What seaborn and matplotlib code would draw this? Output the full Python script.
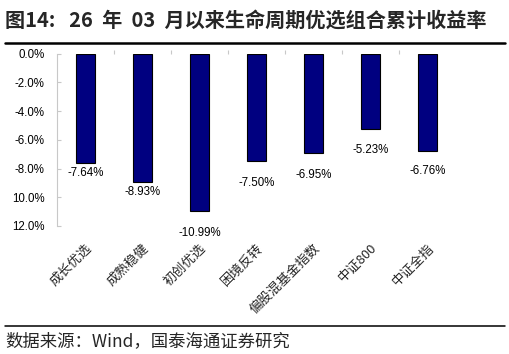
import matplotlib
matplotlib.use("Agg")
import matplotlib.pyplot as plt
import matplotlib.ticker as mticker
from matplotlib.lines import Line2D
import seaborn as sns
import pandas as pd

categories = ["成长优选", "成熟稳健", "初创优选", "困境反转", "偏股混基金指数", "中证800", "中证全指"]
returns = [-7.64, -8.93, -10.99, -7.50, -6.95, -5.23, -6.76]
value_labels = ["-7.64%", "-8.93%", "-10.99%", "-7.50%", "-6.95%", "-5.23%", "-6.76%"]
y_ticks = [0, -2, -4, -6, -8, -10, -12]
y_tick_labels = ["0.0%", "-2.0%", "-4.0%", "-6.0%", "-8.0%", "10.0%", "12.0%"]
label_gap_pt = [3, 3, 11, 11, 11, 11, 10]

sns.set_theme(style="white")
plt.rcParams["font.family"] = ["Liberation Sans", "Noto Sans CJK SC", "DejaVu Sans"]

W, H = 510, 354
fig = plt.figure(figsize=(W / 100, H / 100), dpi=100)
ax = fig.add_axes([57 / W, 1 - 226 / H, (456 - 57) / W, (226 - 53.5) / H])

df = pd.DataFrame({"cat": categories, "ret": returns})
sns.barplot(data=df, x="cat", y="ret", ax=ax, color="#000080", saturation=1,
            width=0.33, edgecolor="black", linewidth=0.8)

ax.set_ylim(-12, 0)
ax.set_xlim(-0.5, len(categories) - 0.5)
ax.set_yticks(y_ticks)
ax.set_yticklabels(y_tick_labels, fontsize=8.3, color="black")
ax.set_xlabel("")
ax.set_ylabel("")

for s in ["top", "right", "bottom"]:
    ax.spines[s].set_visible(False)
ax.spines["left"].set_color("#c8c8c8")
ax.spines["left"].set_linewidth(0.8)
ax.tick_params(axis="y", direction="in", length=3, color="#c8c8c8", width=0.8, pad=9, left=True)

ax.set_xticks(range(len(categories)))
ax.set_xticklabels(categories, rotation=45, ha="right", va="top", rotation_mode="anchor",
                   fontsize=9.5, family=["Noto Sans CJK SC", "Liberation Sans"])
ax.tick_params(axis="x", which="major", length=0, pad=11, bottom=False)
ax.xaxis.set_minor_locator(mticker.FixedLocator([i + 0.5 for i in range(len(categories) - 1)]))
ax.tick_params(axis="x", which="minor", top=True, bottom=False, direction="out", length=3,
               color="#c8c8c8", width=0.8)

for i, (v, lab) in enumerate(zip(returns, value_labels)):
    ax.annotate(lab, xy=(i, v), xytext=(0, -label_gap_pt[i]), textcoords="offset points",
                ha="center", va="top", fontsize=8.3, color="black")

fig.text(5 / W, 1 - 20 / H, "图14:   26  年  03  月以来生命周期优选组合累计收益率",
         fontsize=14.5, fontweight="bold", ha="left", va="center",
         family=["Noto Sans CJK SC", "DejaVu Sans"])
fig.add_artist(Line2D([5 / W, 505 / W], [1 - 42.5 / H, 1 - 42.5 / H], color="black",
                      linewidth=1.8, transform=fig.transFigure))
fig.add_artist(Line2D([5 / W, 505 / W], [1 - 326 / H, 1 - 326 / H], color="black",
                      linewidth=1.1, transform=fig.transFigure))
fig.text(5 / W, 1 - 341 / H, "数据来源：Wind，国泰海通证券研究", fontsize=12.5,
         ha="left", va="center", family=["Noto Sans CJK SC", "Liberation Sans"])

fig.savefig("out.png", dpi=100, facecolor="white")
